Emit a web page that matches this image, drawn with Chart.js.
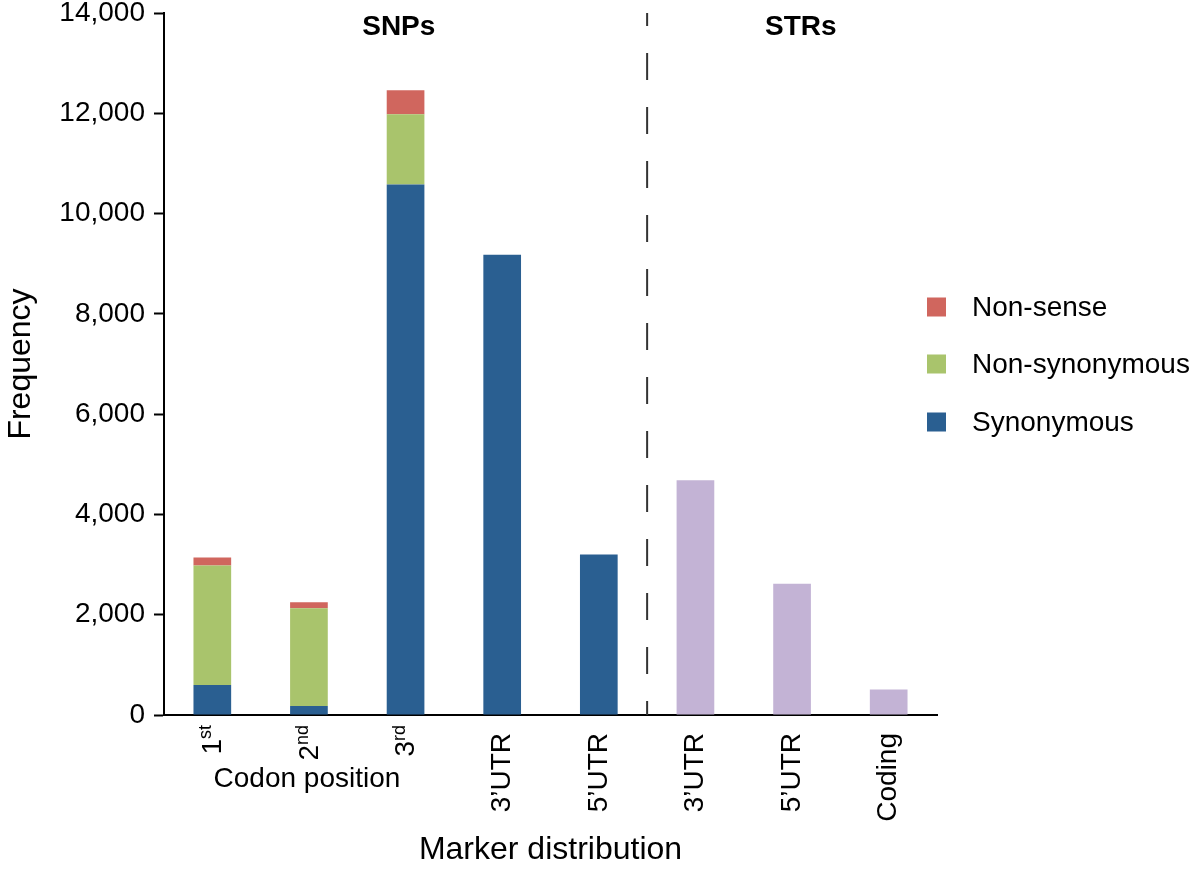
<!DOCTYPE html>
<html>
<head>
<meta charset="utf-8">
<script src="https://cdn.jsdelivr.net/npm/chart.js@4"></script>
<style>
  html, body { margin: 0; padding: 0; background: #fff; }
  #wrap { width: 1200px; height: 869px; position: relative; }
</style>
</head>
<body>
<div id="wrap"><canvas id="chart"></canvas></div>
<script>
// categories along the x axis (SNP part, then STR part)
var categories = ['1st', '2nd', '3rd', '3\u2019UTR', '5\u2019UTR', '3\u2019UTR', '5\u2019UTR', 'Coding'];
var ordinals = [['1', 'st'], ['2', 'nd'], ['3', 'rd']];

// SNP series (stacked)
var synonymous    = [600, 180, 10580, 9180, 3200, null, null, null];
var nonSynonymous = [2380, 1950, 1400, null, null, null, null, null];
var nonSense      = [160, 120, 480, null, null, null, null, null];
// STR markers
var strCounts     = [null, null, null, null, null, 4680, 2620, 510];

var yTicks = [0, 2000, 4000, 6000, 8000, 10000, 12000, 14000];

var COLORS = {
  syn: '#2A5F91',
  nonsyn: '#A9C46C',
  nonsense: '#D0665E',
  str: '#C3B3D5',
};

var FONT = '"Liberation Sans", Arial, Helvetica, sans-serif';

// legend entries drawn at the right (top to bottom)
var legendItems = [
  { label: 'Non-sense', color: COLORS.nonsense },
  { label: 'Non-synonymous', color: COLORS.nonsyn },
  { label: 'Synonymous', color: COLORS.syn },
];

var extrasPlugin = {
  id: 'extras',
  afterDraw: function (chart) {
    var ctx = chart.ctx;
    var x = chart.scales.x;
    var area = chart.chartArea;
    var step = x.getPixelForValue(1) - x.getPixelForValue(0);

    ctx.save();
    // dashed separator between SNPs and STRs
    var sepX = (x.getPixelForValue(4) + x.getPixelForValue(5)) / 2;
    ctx.strokeStyle = '#333';
    ctx.lineWidth = 2;
    ctx.setLineDash([27, 27]);
    ctx.lineDashOffset = 14;
    ctx.beginPath();
    ctx.moveTo(sepX, area.top);
    ctx.lineTo(sepX, area.bottom);
    ctx.stroke();
    ctx.setLineDash([]);

    // group headings
    ctx.fillStyle = '#000';
    ctx.font = 'bold 28px ' + FONT;
    ctx.textAlign = 'center';
    ctx.textBaseline = 'middle';
    ctx.fillText('SNPs', x.getPixelForValue(2) - step * 0.07, area.top + 14);
    ctx.fillText('STRs', x.getPixelForValue(6) + step * 0.09, area.top + 14);

    // ordinal tick labels with superscripts
    ordinals.forEach(function (o, i) {
      var px = x.getPixelForValue(i);
      ctx.save();
      ctx.translate(px, area.bottom + 10);
      ctx.rotate(-Math.PI / 2);
      ctx.textAlign = 'right';
      ctx.textBaseline = 'middle';
      ctx.font = '18px ' + FONT;
      var supW = ctx.measureText(o[1]).width;
      ctx.fillText(o[1], 0, -6);
      ctx.font = '28px ' + FONT;
      ctx.fillText(o[0], -supW, 1);
      ctx.restore();
    });

    // sub-label under the codon positions
    ctx.font = '28px ' + FONT;
    ctx.textAlign = 'center';
    ctx.textBaseline = 'middle';
    ctx.fillText('Codon position', x.getPixelForValue(1) - 2, area.bottom + 64);

    // legend
    var lx = area.right - 10;
    var ly = [307, 364, 422];
    legendItems.forEach(function (it, i) {
      ctx.fillStyle = it.color;
      ctx.fillRect(lx, ly[i] - 9.5, 19, 19);
      ctx.fillStyle = '#000';
      ctx.font = '28px ' + FONT;
      ctx.textAlign = 'left';
      ctx.fillText(it.label, lx + 45, ly[i] + 1);
    });
    ctx.restore();
  },
};

var barOpts = { barPercentage: 0.39, categoryPercentage: 1, borderWidth: 0, stack: 's' };

new Chart(document.getElementById('chart'), {
  type: 'bar',
  data: {
    labels: categories,
    datasets: [
      Object.assign({ label: 'Synonymous', data: synonymous, backgroundColor: COLORS.syn }, barOpts),
      Object.assign({ label: 'Non-synonymous', data: nonSynonymous, backgroundColor: COLORS.nonsyn }, barOpts),
      Object.assign({ label: 'Non-sense', data: nonSense, backgroundColor: COLORS.nonsense }, barOpts),
      Object.assign({ label: 'STRs', data: strCounts, backgroundColor: COLORS.str }, barOpts),
    ],
  },
  options: {
    responsive: true, maintainAspectRatio: false, animation: false,
    layout: { padding: { top: 13, right: 263, left: 0, bottom: 0 } },
    plugins: { legend: { display: false }, tooltip: { enabled: false } },
    scales: {
      x: {
        stacked: true,
        afterFit: function (s) { s.height = 154; s.paddingLeft = 0; s.paddingRight = 0; },
        grid: { display: false },
        border: { display: true, color: '#000', width: 2 },
        ticks: {
          color: '#000', font: { family: FONT, size: 28 },
          minRotation: 90, maxRotation: 90, autoSkip: false, padding: 10,
          callback: function (v, i) { return i < ordinals.length ? '' : categories[i]; },
        },
        title: { display: true, text: 'Marker distribution', color: '#000', font: { family: FONT, size: 32 }, padding: { top: 4, bottom: 0 } },
      },
      y: {
        stacked: true, min: 0, max: 14000,
        afterFit: function (s) { s.width = 164; s.paddingTop = 0; s.paddingBottom = 0; },
        afterBuildTicks: function (s) { s.ticks = yTicks.map(function (v) { return { value: v }; }); },
        grid: { drawOnChartArea: false, drawTicks: true, tickLength: 10, tickColor: '#000', tickWidth: 2 },
        border: { display: true, color: '#000', width: 2 },
        ticks: {
          color: '#000', font: { family: FONT, size: 28 }, padding: 9,
          callback: function (v) { return v.toLocaleString('en-US'); },
        },
        title: { display: true, text: 'Frequency', color: '#000', font: { family: FONT, size: 32 }, padding: { top: 2, bottom: 0 } },
      },
    },
  },
  plugins: [extrasPlugin],
});
</script>
</body>
</html>
